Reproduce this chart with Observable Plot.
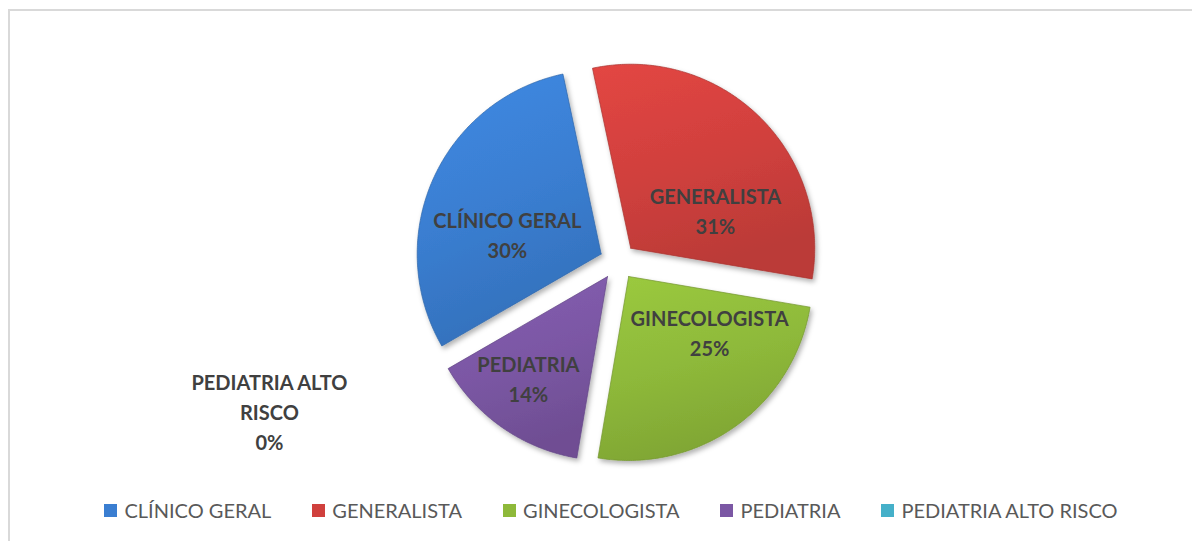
<!DOCTYPE html>
<html><head><meta charset="utf-8">
<script src="https://cdn.jsdelivr.net/npm/d3@7"></script>
<script src="https://cdn.jsdelivr.net/npm/@observablehq/plot@0.6"></script>
<style>
body{margin:0;background:#fff;width:1192px;height:541px;overflow:hidden;position:relative;font-family:Lato,"Open Sans",sans-serif}
#frame{position:absolute;left:8px;top:9px;right:-10px;bottom:-10px;border-left:2px solid #d9d9d9;border-top:2px solid #d9d9d9}
#chart{position:absolute;left:0;top:0}
#legend{position:absolute;left:30px;top:495px;width:1162px}
#legend .lg-swatches{justify-content:center;font-family:Lato,sans-serif;font-size:20px;color:#595959;min-height:30px}
#legend .lg-swatch{margin-right:41px}
#legend .lg-swatch:last-child{margin-right:0}
#legend .lg-swatch svg{margin-right:7px}
</style></head><body>
<div id="frame"></div><div id="chart"></div><div id="legend"></div>
<script>
const categories = ["CLÍNICO GERAL", "GENERALISTA", "GINECOLOGISTA", "PEDIATRIA", "PEDIATRIA ALTO RISCO"];
const shares = [30, 31, 25, 14, 0];
const colors = ["#3a7ed1", "#d0403d", "#8eb93a", "#7b57a4", "#45b0c9"];

const W = 1192, H = 490, CX = 617.5, CY = 261, R = 184;
const FIRST_ANGLE = 240 * Math.PI / 180;
const EXPLODE = 0.1;
const FONT = "Lato";
const FS = 20, LH = 1.5;

const total = d3.sum(shares);
const pct = d3.format(".0%");
const arcs = d3.pie().sort(null).value(d => d).startAngle(FIRST_ANGLE).endAngle(FIRST_ANGLE + 2 * Math.PI)(shares);

function wrap(s, n) {
  const out = []; let cur = "";
  for (const w of s.split(" ")) {
    if (cur && (cur + " " + w).length > n) { out.push(cur); cur = w; } else cur = cur ? cur + " " + w : w;
  }
  if (cur) out.push(cur);
  return out;
}

const slices = arcs.map((a, i) => {
  const mid = (a.startAngle + a.endAngle) / 2;
  const ox = a.value > 0 ? EXPLODE * Math.sin(mid) : 0;
  const oy = a.value > 0 ? EXPLODE * Math.cos(mid) : 0;
  const pts = [];
  if (a.value > 0) {
    pts.push({x: ox, y: oy});
    const n = Math.max(2, Math.ceil((a.endAngle - a.startAngle) / 0.01));
    for (let k = 0; k <= n; k++) {
      const t = a.startAngle + (a.endAngle - a.startAngle) * k / n;
      pts.push({x: ox + Math.sin(t), y: oy + Math.cos(t)});
    }
    pts.push({x: ox, y: oy});
  }
  return {name: categories[i], value: a.value, a0: a.startAngle, a1: a.endAngle, mid, ox, oy, pts, i};
});

const ctx = document.createElement("canvas").getContext("2d");
ctx.font = `bold ${FS}px ${FONT}`;

function sectorDist(x, y, a0, a1) {
  const r = Math.hypot(x, y);
  let ang = Math.atan2(x, y);
  while (ang < a0) ang += 2 * Math.PI;
  while (ang >= a0 + 2 * Math.PI) ang -= 2 * Math.PI;
  const inAng = ang <= a1;
  const inside = inAng && r < 1;
  const segD = (a) => {
    const ex = Math.sin(a), ey = Math.cos(a);
    let t = x * ex + y * ey; t = Math.max(0, Math.min(1, t));
    return Math.hypot(x - t * ex, y - t * ey);
  };
  let d = Math.min(segD(a0), segD(a1));
  if (inAng) d = Math.min(d, Math.abs(1 - r));
  return inside ? d : -d;
}

const labels = slices.map(s => {
  const lines = s.value > 0 ? [s.name, pct(s.value / total)] : [...wrap(s.name, 14), pct(s.value / total)];
  const text = lines.join("\n");
  if (s.value === 0) {
    const a = s.a0 + 0.12, d = 2.06;
    return {x: Math.sin(a) * d, y: Math.cos(a) * d, text};
  }
  const hw = d3.max(lines, l => ctx.measureText(l).width) / 2 / R;
  const hh = lines.length * LH * FS / 2 / R * 0.6;
  const samples = [];
  for (let k = 0; k <= 6; k++) { const u = -hw + 2 * hw * k / 6; samples.push([u, hh], [u, -hh]); }
  samples.push([-hw, 0], [hw, 0]);
  let best = null, bestM = -Infinity;
  for (let gx = -1; gx <= 1; gx += 0.01) for (let gy = -1; gy <= 1; gy += 0.01) {
    let m = Infinity;
    for (const [u, v] of samples) { m = Math.min(m, sectorDist(gx + u, gy + v, s.a0, s.a1)); if (m < bestM) break; }
    if (m > bestM) { bestM = m; best = [gx, gy]; }
  }
  return {x: s.ox + best[0], y: s.oy + best[1], text};
});

const gid = i => `url(#slice-grad-${i})`;

const chart = Plot.plot({
  width: W, height: H, margin: 0,
  x: {type: "linear", domain: [-CX / R, (W - CX) / R], range: [0, W], axis: null},
  y: {type: "linear", domain: [(CY - H) / R, CY / R], range: [H, 0], axis: null},
  style: {background: "transparent", overflow: "visible"},
  marks: [
    ...slices.filter(s => s.value > 0).map(s =>
      Plot.line(s.pts, {x: "x", y: "y", fill: gid(s.i), stroke: d3.color(colors[s.i]).darker(0.6).formatHex(), strokeWidth: 1, strokeOpacity: 0.7, curve: "linear"})
    ),
    Plot.text(labels, {x: "x", y: "y", text: "text", fontSize: FS, fontWeight: "bold", fill: "#404040", lineHeight: LH, fontFamily: FONT, textAnchor: "middle"})
  ]
});

const svg = d3.select(chart);
const defs = svg.insert("defs", ":first-child");
colors.forEach((c, i) => {
  const g = defs.append("linearGradient").attr("id", `slice-grad-${i}`).attr("x1", 0).attr("y1", 0).attr("x2", 0.3).attr("y2", 1);
  g.append("stop").attr("offset", "0%").attr("stop-color", d3.color(c).brighter(0.25).formatHex());
  g.append("stop").attr("offset", "55%").attr("stop-color", c);
  g.append("stop").attr("offset", "100%").attr("stop-color", d3.color(c).darker(0.3).formatHex());
});
const f = defs.append("filter").attr("id", "slice-shadow").attr("x", "-10%").attr("y", "-10%").attr("width", "130%").attr("height", "130%");
f.append("feDropShadow").attr("dx", 2).attr("dy", 3).attr("stdDeviation", 2.5).attr("flood-color", "#000").attr("flood-opacity", 0.3);
svg.selectAll("g[aria-label='line']").attr("filter", "url(#slice-shadow)");

document.getElementById("chart").appendChild(chart);

const legend = Plot.legend({
  color: {type: "ordinal", domain: categories, range: colors},
  legend: "swatches", swatchSize: 13, className: "lg"
});
document.getElementById("legend").appendChild(legend);
</script>
</body></html>
